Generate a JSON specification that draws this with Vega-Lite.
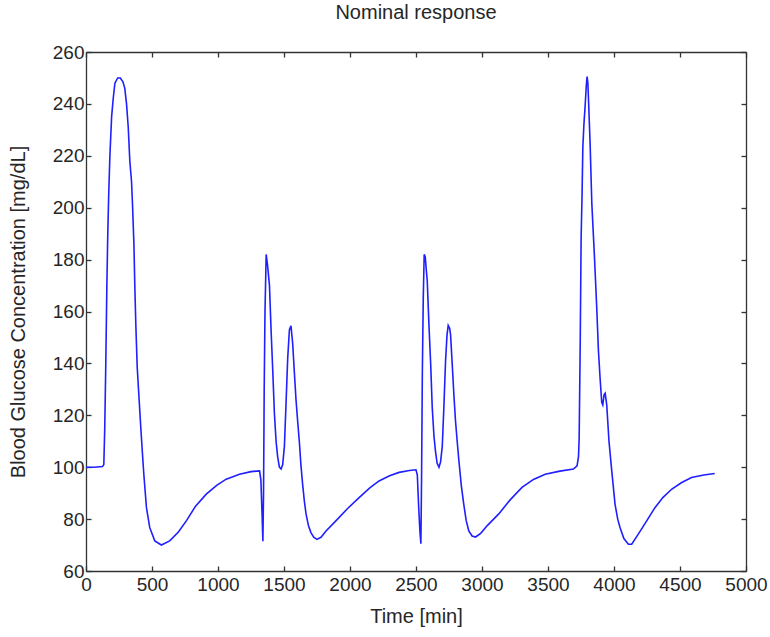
{
  "$schema": "https://vega.github.io/schema/vega-lite/v6.json",
  "width": 660,
  "height": 519,
  "autosize": {"type": "none"},
  "padding": {"left": 86, "top": 52, "right": 24, "bottom": 66},
  "background": "white",
  "title": {
    "text": "Nominal response",
    "font": "Liberation Sans",
    "fontSize": 20,
    "fontWeight": "normal",
    "color": "#262626",
    "offset": 20
  },
  "config": {
    "view": {"stroke": null},
    "axis": {
      "grid": false,
      "domainColor": "#333333",
      "domainWidth": 1.3,
      "tickColor": "#333333",
      "tickWidth": 1.3,
      "tickSize": -5,
      "labelFont": "Liberation Sans",
      "labelFontSize": 19,
      "labelColor": "#262626",
      "titleFont": "Liberation Sans",
      "titleFontSize": 20,
      "titleFontWeight": "normal",
      "titleColor": "#262626",
      "labelPadding": 7
    }
  },
  "data": {
    "values": [
      {"t": 0, "g": 100}, {"t": 60, "g": 100}, {"t": 125, "g": 100.3}, {"t": 135, "g": 101},
      {"t": 142, "g": 115}, {"t": 150, "g": 140}, {"t": 158, "g": 170}, {"t": 165, "g": 190},
      {"t": 172, "g": 205}, {"t": 181, "g": 220}, {"t": 194, "g": 235}, {"t": 206, "g": 242},
      {"t": 219, "g": 248}, {"t": 240, "g": 250}, {"t": 260, "g": 250}, {"t": 280, "g": 248.5},
      {"t": 294, "g": 246}, {"t": 307, "g": 240}, {"t": 320, "g": 231}, {"t": 332, "g": 218},
      {"t": 345, "g": 210}, {"t": 352, "g": 201.6}, {"t": 363, "g": 186}, {"t": 370, "g": 169.4},
      {"t": 378, "g": 154}, {"t": 388, "g": 138.5}, {"t": 403, "g": 125.6}, {"t": 415, "g": 115.3},
      {"t": 428, "g": 105}, {"t": 438, "g": 97.3}, {"t": 458, "g": 84.4}, {"t": 483, "g": 76.7},
      {"t": 521, "g": 71.6}, {"t": 571, "g": 70}, {"t": 634, "g": 71.6}, {"t": 700, "g": 75},
      {"t": 760, "g": 79.3}, {"t": 830, "g": 85}, {"t": 911, "g": 89.6}, {"t": 990, "g": 93},
      {"t": 1062, "g": 95.4}, {"t": 1163, "g": 97.3}, {"t": 1250, "g": 98.3}, {"t": 1315, "g": 98.6},
      {"t": 1325, "g": 95}, {"t": 1335, "g": 80}, {"t": 1340, "g": 71.5}, {"t": 1345, "g": 90},
      {"t": 1350, "g": 130}, {"t": 1356, "g": 160}, {"t": 1365, "g": 182}, {"t": 1375, "g": 178},
      {"t": 1390, "g": 170}, {"t": 1402, "g": 153}, {"t": 1415, "g": 137}, {"t": 1427, "g": 121},
      {"t": 1440, "g": 110}, {"t": 1452, "g": 104}, {"t": 1465, "g": 100}, {"t": 1478, "g": 99.3},
      {"t": 1490, "g": 101}, {"t": 1503, "g": 108}, {"t": 1515, "g": 124}, {"t": 1528, "g": 142},
      {"t": 1541, "g": 153}, {"t": 1553, "g": 154.5}, {"t": 1566, "g": 147.5}, {"t": 1578, "g": 137},
      {"t": 1591, "g": 126}, {"t": 1603, "g": 118}, {"t": 1616, "g": 110}, {"t": 1628, "g": 101},
      {"t": 1641, "g": 93.5}, {"t": 1654, "g": 87}, {"t": 1667, "g": 82}, {"t": 1685, "g": 77.5},
      {"t": 1704, "g": 74.8}, {"t": 1725, "g": 73}, {"t": 1750, "g": 72.2}, {"t": 1780, "g": 73},
      {"t": 1820, "g": 75.5}, {"t": 1893, "g": 79.3}, {"t": 1980, "g": 84}, {"t": 2069, "g": 88.3},
      {"t": 2150, "g": 92}, {"t": 2220, "g": 94.7}, {"t": 2300, "g": 96.7}, {"t": 2372, "g": 98},
      {"t": 2450, "g": 98.7}, {"t": 2500, "g": 99}, {"t": 2510, "g": 97}, {"t": 2520, "g": 85},
      {"t": 2530, "g": 75}, {"t": 2537, "g": 70.5}, {"t": 2542, "g": 95}, {"t": 2548, "g": 136},
      {"t": 2555, "g": 165}, {"t": 2562, "g": 182}, {"t": 2570, "g": 181}, {"t": 2578, "g": 176},
      {"t": 2585, "g": 172}, {"t": 2598, "g": 155}, {"t": 2611, "g": 140}, {"t": 2623, "g": 123},
      {"t": 2636, "g": 112}, {"t": 2648, "g": 106}, {"t": 2660, "g": 101.5}, {"t": 2674, "g": 100},
      {"t": 2686, "g": 102}, {"t": 2699, "g": 108}, {"t": 2711, "g": 123}, {"t": 2724, "g": 141},
      {"t": 2735, "g": 151}, {"t": 2744, "g": 154.6}, {"t": 2755, "g": 153.5}, {"t": 2762, "g": 151},
      {"t": 2774, "g": 140}, {"t": 2787, "g": 128}, {"t": 2799, "g": 118}, {"t": 2812, "g": 110},
      {"t": 2825, "g": 102.5}, {"t": 2843, "g": 93}, {"t": 2862, "g": 85.7}, {"t": 2880, "g": 79.5},
      {"t": 2900, "g": 75.4}, {"t": 2925, "g": 73.5}, {"t": 2951, "g": 73.1}, {"t": 2990, "g": 74.5},
      {"t": 3040, "g": 77.5}, {"t": 3127, "g": 82}, {"t": 3215, "g": 87.5}, {"t": 3303, "g": 92.2},
      {"t": 3390, "g": 95.3}, {"t": 3479, "g": 97.3}, {"t": 3590, "g": 98.5}, {"t": 3693, "g": 99.3},
      {"t": 3720, "g": 100.5}, {"t": 3731, "g": 104}, {"t": 3736, "g": 111}, {"t": 3744, "g": 147.5},
      {"t": 3751, "g": 188.7}, {"t": 3758, "g": 205}, {"t": 3764, "g": 223.4}, {"t": 3772, "g": 232},
      {"t": 3781, "g": 239}, {"t": 3790, "g": 247}, {"t": 3796, "g": 250.5}, {"t": 3802, "g": 248},
      {"t": 3807, "g": 241.5}, {"t": 3819, "g": 224.7}, {"t": 3832, "g": 201.6}, {"t": 3852, "g": 181},
      {"t": 3869, "g": 161.7}, {"t": 3882, "g": 145}, {"t": 3895, "g": 134}, {"t": 3907, "g": 125},
      {"t": 3915, "g": 124}, {"t": 3925, "g": 128}, {"t": 3933, "g": 128.5}, {"t": 3945, "g": 124},
      {"t": 3962, "g": 110}, {"t": 3983, "g": 98.6}, {"t": 4008, "g": 85.7}, {"t": 4028, "g": 80},
      {"t": 4046, "g": 76.7}, {"t": 4075, "g": 72.5}, {"t": 4109, "g": 70.3}, {"t": 4134, "g": 70.3},
      {"t": 4184, "g": 74.2}, {"t": 4250, "g": 79.5}, {"t": 4310, "g": 84.4}, {"t": 4370, "g": 88.3},
      {"t": 4436, "g": 91.5}, {"t": 4510, "g": 94}, {"t": 4587, "g": 96}, {"t": 4680, "g": 97},
      {"t": 4763, "g": 97.6}
    ]
  },
  "layer": [
    {
      "mark": {"type": "line", "color": "#1f1fff", "strokeWidth": 1.6, "clip": true},
      "encoding": {
        "x": {
          "field": "t", "type": "quantitative",
          "scale": {"domain": [0, 5000], "nice": false, "zero": false},
          "axis": {"orient": "bottom", "values": [0, 500, 1000, 1500, 2000, 2500, 3000, 3500, 4000, 4500, 5000], "format": "d", "title": "Time [min]", "titlePadding": 12, "labelPadding": 9, "labelFlush": false}
        },
        "y": {
          "field": "g", "type": "quantitative",
          "scale": {"domain": [60, 260], "nice": false, "zero": false},
          "axis": {"orient": "left", "values": [60, 80, 100, 120, 140, 160, 180, 200, 220, 240, 260], "format": "d", "title": "Blood Glucose Concentration [mg/dL]", "titlePadding": 24, "labelFlush": false}
        }
      }
    },
    {
      "mark": {"type": "line", "strokeOpacity": 0},
      "encoding": {
        "x": {
          "field": "t", "type": "quantitative",
          "axis": {"orient": "top", "values": [0, 500, 1000, 1500, 2000, 2500, 3000, 3500, 4000, 4500, 5000], "labels": false, "title": null}
        },
        "y": {
          "field": "g", "type": "quantitative",
          "axis": {"orient": "right", "values": [60, 80, 100, 120, 140, 160, 180, 200, 220, 240, 260], "labels": false, "title": null}
        }
      }
    }
  ],
  "resolve": {"axis": {"x": "independent", "y": "independent"}}
}
